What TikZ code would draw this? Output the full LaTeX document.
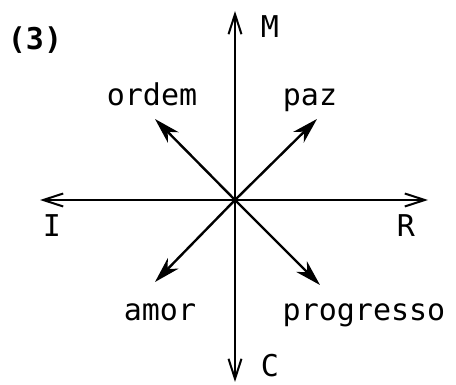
\documentclass[tikz,border=0pt]{standalone}
\usepackage{fontspec}
\setmonofont{DejaVu Sans Mono}
\usetikzlibrary{arrows.meta}
\begin{document}
\begin{tikzpicture}[x=1pt,y=-1pt,
  lbl/.style={font=\ttfamily\fontsize{30}{30}\selectfont, inner sep=0pt, text=black, anchor=base},
  axis/.style={line width=2.2pt, -{Straight Barb[length=20pt,width=13pt,line width=2pt]}},
  diag/.style={line width=2.4pt, -{Stealth[length=26pt,width=15pt,inset=8pt]}}]
\useasboundingbox (0,0) rectangle (456,385);
\coordinate (O) at (235,200);
\coordinate (Mt) at (235,11);
\coordinate (Ct) at (235,382);
\coordinate (It) at (40,200);
\coordinate (Rt) at (428,200);
\coordinate (ot) at (155,119);
\coordinate (pt) at (317,119);
\coordinate (at) at (155,282);
\coordinate (gt) at (320,285);
\draw[axis] (O) -- (Mt);
\draw[axis] (O) -- (Ct);
\draw[axis] (O) -- (It);
\draw[axis] (O) -- (Rt);
\draw[diag] (O) -- (ot);
\draw[diag] (O) -- (pt);
\draw[diag] (O) -- (at);
\draw[diag] (O) -- (gt);
\node[lbl, font=\ttfamily\bfseries\fontsize{30}{30}\selectfont] (n3) at (35,50) {(3)};
\node[lbl] (M) at (270,38) {M};
\node[lbl] (C) at (270,377) {C};
\node[lbl] (I) at (52,237) {I};
\node[lbl] (R) at (406,237) {R};
\node[lbl] (ordem) at (152,106) {ordem};
\node[lbl] (paz) at (310,106) {paz};
\node[lbl] (amor) at (160,321) {amor};
\node[lbl] (prog) at (364,321) {progresso};
\end{tikzpicture}
\end{document}
